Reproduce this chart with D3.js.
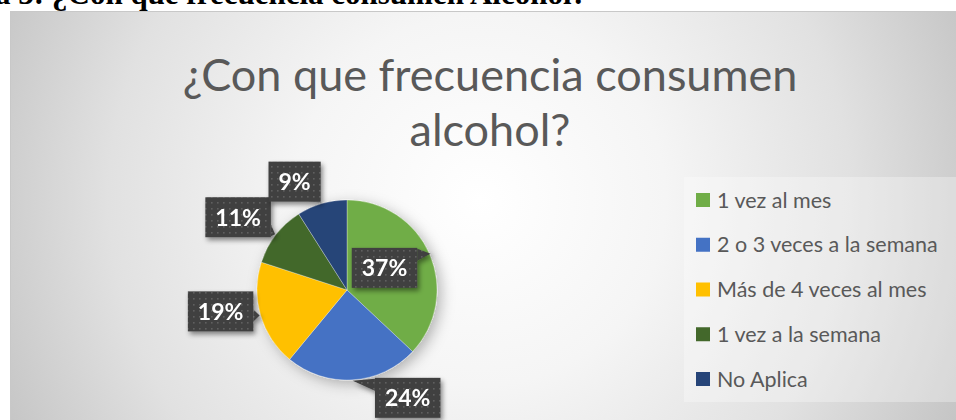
<!DOCTYPE html>
<html>
<head>
<meta charset="utf-8">
<script src="https://cdn.jsdelivr.net/npm/d3@7"></script>
<style>
  body{margin:0;background:#fff;overflow:hidden}
  svg{display:block}
</style>
</head>
<body>
<div id="chart"></div>
<script>
  // chart data
  var categories = ['1 vez al mes', '2 o 3 veces a la semana', 'Más de 4 veces al mes', '1 vez a la semana', 'No Aplica'];
  var values     = [37, 24, 19, 11, 9];
  var colors     = ['#70ad47', '#4472c4', '#ffc000', '#43682b', '#264478'];
  var captionPre = 'Gráfica 3:';
  var caption    = '¿Con que frecuencia consumen Alcohol?';
  var titleLines = ['¿Con que frecuencia consumen', 'alcohol?'];

  // layout
  var width  = 956,
      height = 420,
      cx     = 347,
      cy     = 290,
      radius = 90;

  // where each callout box sits, relative to the point it points at
  var labelOffsets = [[-46, 14], [55, 17], [-39, -4], [-37, -17], [-27, -21]];

  function el(id){return document.getElementById(id)}

  var svg = d3.select(el('chart')).append('svg')
    .attr('width', width)
    .attr('height', height);

  var defs = svg.append('defs');

  // background gradient, light in the middle, grey at the corners
  var bg = defs.append('radialGradient')
    .attr('id', 'bg')
    .attr('gradientUnits', 'userSpaceOnUse')
    .attr('cx', 480).attr('cy', 200).attr('r', 530);
  [[0, '#ffffff'], [0.35, '#f5f5f5'], [0.7, '#e1e1e1'], [1, '#c4c4c4']].forEach(function(s){
    bg.append('stop').attr('offset', s[0]).attr('stop-color', s[1]);
  });

  // dotted fill of the callouts
  var dots = defs.append('pattern')
    .attr('id', 'dots')
    .attr('patternUnits', 'userSpaceOnUse')
    .attr('width', 6).attr('height', 6);
  dots.append('rect').attr('width', 6).attr('height', 6).attr('fill', '#404040');
  dots.append('rect').attr('x', 2).attr('y', 2).attr('width', 1.6).attr('height', 1.6).attr('fill', '#5e5e5e');

  var pieShadow = defs.append('filter').attr('id', 'pieShadow')
    .attr('x', '-30%').attr('y', '-30%').attr('width', '160%').attr('height', '160%');
  pieShadow.append('feDropShadow')
    .attr('dx', 4).attr('dy', 4).attr('stdDeviation', 7)
    .attr('flood-color', '#000').attr('flood-opacity', 0.28);

  var boxShadow = defs.append('filter').attr('id', 'boxShadow')
    .attr('x', '-30%').attr('y', '-30%').attr('width', '160%').attr('height', '160%');
  boxShadow.append('feDropShadow')
    .attr('dx', 2).attr('dy', 3).attr('stdDeviation', 2.5)
    .attr('flood-color', '#000').attr('flood-opacity', 0.45);

  // caption of the document, mostly cut off above the picture
  var cap = svg.append('g')
    .attr('font-family', 'Liberation Serif')
    .attr('font-weight', 'bold')
    .attr('font-size', 31)
    .attr('fill', '#000');
  cap.append('text')
    .attr('x', 44).attr('y', 4)
    .attr('text-anchor', 'end')
    .text(captionPre);
  cap.append('text')
    .attr('x', 52).attr('y', 4)
    .text(caption);

  // chart area
  svg.append('rect')
    .attr('x', 10.5).attr('y', 11.5)
    .attr('width', 980).attr('height', 440)
    .attr('fill', 'url(#bg)')
    .attr('stroke', '#c8c8c8');

  // title
  svg.append('g')
    .attr('font-family', 'Lato')
    .attr('font-size', 45)
    .attr('fill', '#595959')
    .attr('text-anchor', 'middle')
    .selectAll('text')
    .data(titleLines)
    .enter().append('text')
      .attr('x', 490)
      .attr('y', function(d, i){ return 91 + i * 55 })
      .text(function(d){ return d });

  // pie
  var pie = d3.pie().sort(null).value(function(d){ return d });
  var arcs = pie(values);
  var arc = d3.arc().innerRadius(0).outerRadius(radius);

  var g = svg.append('g')
    .attr('transform', 'translate(' + cx + ',' + cy + ')');

  g.append('g')
    .attr('filter', 'url(#pieShadow)')
    .selectAll('path')
    .data(arcs)
    .enter().append('path')
      .attr('d', arc)
      .attr('fill', function(d, i){ return colors[i] })
      .attr('stroke', 'rgba(255,255,255,0.5)')
      .attr('stroke-width', 0.6);

  // callouts
  function pointer(b, t){
    var ex = Math.max(b.x0 - t[0], t[0] - b.x1, 0),
        ey = Math.max(b.y0 - t[1], t[1] - b.y1, 0),
        c;
    if(ex >= ey){
      var sx = t[0] > b.x1 ? b.x1 : b.x0;
      c = Math.max(b.y0 + 7, Math.min(b.y1 - 7, t[1]));
      return [[sx, c - 6], t, [sx, c + 6]];
    }
    var sy = t[1] > b.y1 ? b.y1 : b.y0;
    c = Math.max(b.x0 + 7, Math.min(b.x1 - 7, t[0]));
    return [[c - 6, sy], t, [c + 6, sy]];
  }

  var labels = g.selectAll('.callout')
    .data(arcs)
    .enter().append('g')
      .attr('class', 'callout')
      .attr('filter', 'url(#boxShadow)');

  labels.each(function(d, i){
    var a    = (d.startAngle + d.endAngle) / 2,
        tip  = [Math.sin(a) * (radius + 1), -Math.cos(a) * (radius + 1)],
        lc   = [tip[0] + labelOffsets[i][0], tip[1] + labelOffsets[i][1]],
        grp  = d3.select(this);

    var txt = grp.append('text')
      .attr('x', lc[0]).attr('y', lc[1])
      .attr('dy', '0.36em')
      .attr('text-anchor', 'middle')
      .attr('font-family', 'Lato')
      .attr('font-weight', 'bold')
      .attr('font-size', 23)
      .attr('fill', '#fff')
      .text(values[i] + '%');

    var w = txt.node().getComputedTextLength() + 20,
        h = 40,
        b = {x0: lc[0] - w/2, x1: lc[0] + w/2, y0: lc[1] - h/2, y1: lc[1] + h/2};

    grp.insert('path', 'text')
      .attr('d', d3.line()(pointer(b, tip)) + 'Z')
      .attr('fill', 'url(#dots)');
    grp.insert('rect', 'text')
      .attr('x', b.x0).attr('y', b.y0)
      .attr('width', w).attr('height', h)
      .attr('fill', 'url(#dots)');
  });

  // legend
  svg.append('rect')
    .attr('x', 684).attr('y', 177)
    .attr('width', 280).attr('height', 225)
    .attr('fill', '#ffffff')
    .attr('fill-opacity', 0.3);

  var ly = d3.scalePoint().domain(categories).range([200, 379]);

  var legend = svg.append('g')
    .selectAll('g')
    .data(categories)
    .enter().append('g')
      .attr('transform', function(d){ return 'translate(696,' + ly(d) + ')' });

  legend.append('rect')
    .attr('y', -7)
    .attr('width', 14).attr('height', 14)
    .attr('fill', function(d, i){ return colors[i] });

  legend.append('text')
    .attr('x', 21)
    .attr('dy', '0.35em')
    .attr('font-family', 'Lato')
    .attr('font-size', 21.5)
    .attr('fill', '#595959')
    .text(function(d){ return d });
</script>
</body>
</html>
